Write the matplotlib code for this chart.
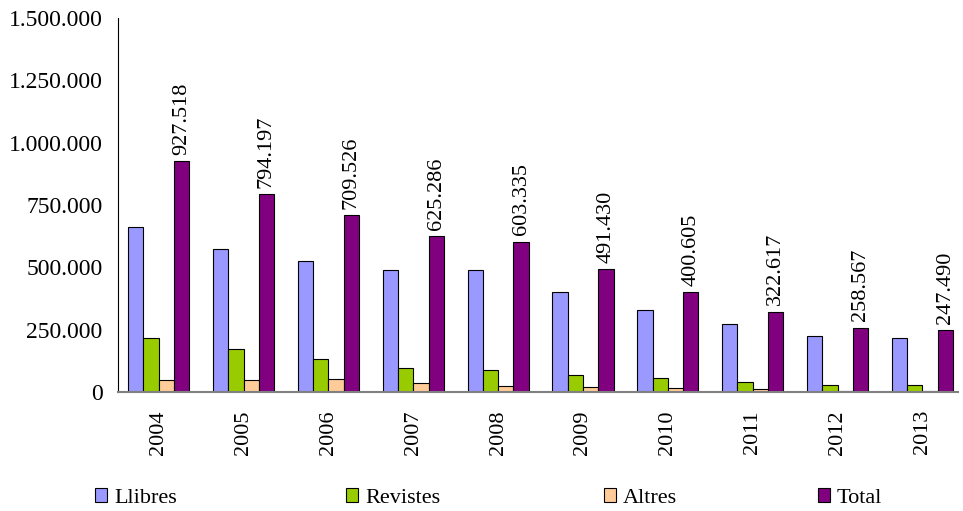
import matplotlib
matplotlib.use("Agg")
import matplotlib.pyplot as plt
import numpy as np

plt.rcParams['font.family'] = ['Liberation Serif', 'DejaVu Serif']

years = ["2004", "2005", "2006", "2007", "2008", "2009", "2010", "2011", "2012", "2013"]
llibres = [662000, 574000, 526000, 490000, 491000, 403000, 330000, 271000, 225000, 217000]
revistes = [217000, 172000, 132000, 97000, 88000, 68000, 55000, 40000, 28000, 27000]
altres = [48500, 48000, 51500, 38000, 24000, 20000, 15500, 11500, 5500, 3500]
total = [927518, 794197, 709526, 625286, 603335, 491430, 400605, 322617, 258567, 247490]

series = [("Llibres", llibres, "#9999FF"),
          ("Revistes", revistes, "#99CC00"),
          ("Altres", altres, "#FFCC99"),
          ("Total", total, "#800080")]


def fmt(v):
    return "{:,}".format(int(v)).replace(",", ".")


fig = plt.figure(figsize=(9.63, 5.11), dpi=100)
ax = fig.add_axes([118 / 963, 1 - 392 / 511, 840 / 963, 374 / 511])

x = np.arange(len(years))
w = 0.18
handles = []
for i, (name, vals, col) in enumerate(series):
    b = ax.bar(x + (i - 1.5) * w, vals, w, color=col, edgecolor="black",
               linewidth=0.8, label=name)
    handles.append(b)

for xi, v in zip(x, total):
    ax.text(xi + 1.5 * w, v + 25000, fmt(v), rotation=90, ha="center",
            va="bottom", fontsize=16)

ax.set_xlim(-0.48, 9.42)
ax.set_ylim(0, 1500000)
ax.set_yticks(np.arange(0, 1500001, 250000))
ax.set_yticklabels([fmt(t) for t in np.arange(0, 1500001, 250000)], fontsize=17)
ax.set_xticks(x)
ax.set_xticklabels(years, rotation=90, fontsize=16)
ax.tick_params(axis="y", length=0, pad=11)
ax.tick_params(axis="x", length=0, pad=13)
for s in ["top", "right"]:
    ax.spines[s].set_visible(False)
ax.spines["left"].set_color("black")
ax.spines["left"].set_linewidth(0.8)
ax.spines["bottom"].set_color("#808080")
ax.spines["bottom"].set_linewidth(1.5)

# legend entries spread across the bottom like the original
leg_x = [95, 346, 604, 818]
for h, (name, _, _), lx in zip(handles, series, leg_x):
    fig.legend([h], [name], loc="center left",
               bbox_to_anchor=(lx / 963, 1 - 498 / 511),
               frameon=False, fontsize=16, handlelength=0.55,
               handleheight=0.55, handletextpad=0.3,
               borderaxespad=0.0, borderpad=0.0)

plt.savefig("out.png", dpi=100)
